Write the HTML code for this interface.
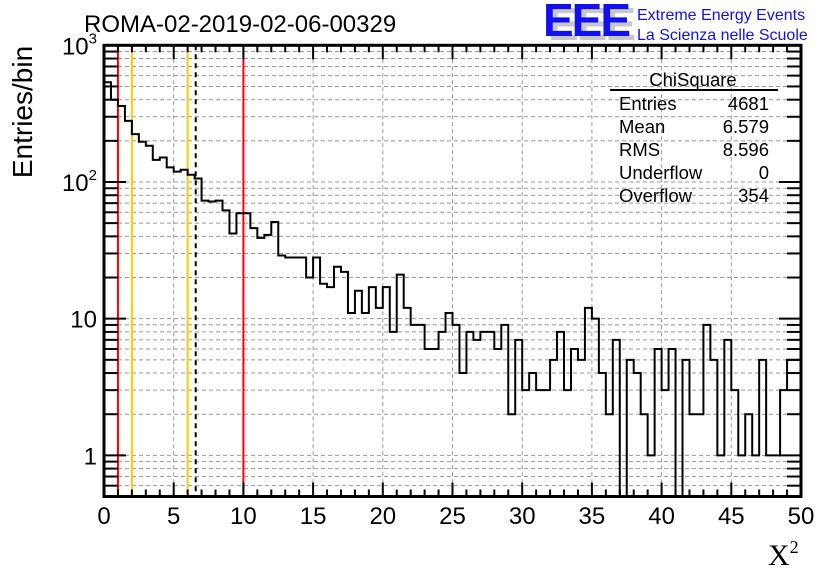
<!DOCTYPE html>
<html><head><meta charset="utf-8"><style>
html,body{margin:0;padding:0;background:#fff;}
svg{display:block;font-family:"Liberation Sans",sans-serif;}
</style></head><body>
<svg id="c" width="836" height="572" viewBox="0 0 836 572">
<rect width="836" height="572" fill="#fff"/>
<g id="grid"></g>
<g id="vlines"></g>
<path id="hist" fill="none" stroke="#000" stroke-width="2"/>
<g id="axes"></g>
<text x="84" y="32" font-size="24">ROMA-02-2019-02-06-00329</text>
<text transform="translate(32,112) rotate(-90)" text-anchor="middle" font-size="28">Entries/bin</text>
<text x="768" y="565" font-size="30" font-family="Liberation Serif,serif">X<tspan font-size="18" dy="-12">2</tspan></text>
<g>
<text x="548" y="40" font-size="46" font-weight="bold" fill="#c8c8c8" letter-spacing="-2">EEE</text>
<text x="543" y="36" font-size="46" font-weight="bold" fill="#1010f0" letter-spacing="-2">EEE</text>
<text x="637" y="20" font-size="16" fill="#1010f0">Extreme Energy Events</text>
<text x="637" y="40" font-size="16" fill="#1010f0">La Scienza nelle Scuole</text>
</g>
<g font-size="18.5">
<text x="693" y="86" text-anchor="middle">ChiSquare</text>
<line x1="610" y1="90" x2="778" y2="90" stroke="#000" stroke-width="2"/>
<text x="619" y="110">Entries</text><text x="769" y="110" text-anchor="end">4681</text>
<text x="619" y="133">Mean</text><text x="769" y="133" text-anchor="end">6.579</text>
<text x="619" y="156">RMS</text><text x="769" y="156" text-anchor="end">8.596</text>
<text x="619" y="179">Underflow</text><text x="769" y="179" text-anchor="end">0</text>
<text x="619" y="202">Overflow</text><text x="769" y="202" text-anchor="end">354</text>
</g>
</svg>
<script>
const binWidth = 0.5;
const counts = [537,400,360,280,224,197,184,145,151,128,119,123,113,106,73,72,73,62,42,59,
59,46,39,41,51,29,28,28,28,20,28,18,17,24,22,11,16,11,17,12,
17,8,21,12,9,9,6,6,8,11,9,4,8,7,8,8,6,9,2,7,
3,4,3,3,5,8,3,6,5,12,10,4,2,7,0,5,4,2,1,6,
3,6,0,5,2,2,9,5,1,7,3,1,2,1,5,1,1,3,5,5];
const xTicks = [0,5,10,15,20,25,30,35,40,45,50];
const yTicks = [1,10,100,1000];
const yTickLabels = ["1","10","10²","10³"];
const refLinesRed = [1,10];
const refLinesYellow = [2,6];
const meanValue = 6.579;

const X0=104,X1=801,Y0=496.5,Y1=45.3,XMIN=0,XMAX=50,YMIN=0.5,YMAX=1000;
const sx=v=>X0+(v-XMIN)/(XMAX-XMIN)*(X1-X0);
const sy=v=>{if(v<=0)return Y0+20;const y=Y0-(Math.log10(v)-Math.log10(YMIN))/(Math.log10(YMAX)-Math.log10(YMIN))*(Y0-Y1);return y;};
const NS="http://www.w3.org/2000/svg";
function mk(parent,tag,attrs){const e=document.createElementNS(NS,tag);for(const k in attrs)e.setAttribute(k,attrs[k]);parent.appendChild(e);return e;}
const grid=document.getElementById('grid'),axes=document.getElementById('axes'),vl=document.getElementById('vlines');
for(let d=-1;d<=2;d++){for(let m=1;m<=9;m++){const v=m*Math.pow(10,d);if(v<YMIN||v>YMAX)continue;const y=sy(v);
 const g=mk(grid,'line',{x1:X0,x2:X1,y1:y,y2:y,stroke:'#999','stroke-width':1,'stroke-dasharray':'4,3'});
 
 
 const big=(m===1);
 const t=mk(axes,'line',{x1:X0,x2:X0+(big?22:14),y1:y,y2:y,stroke:'#000','stroke-width':2});
 
 
 const t2=mk(axes,'line',{x1:X1,x2:X1-(big?22:14),y1:y,y2:y,stroke:'#000','stroke-width':2});
 
 
}}
xTicks.forEach(v=>{const x=sx(v);
 if(v>XMIN&&v<XMAX){const g=mk(grid,'line',{x1:x,x2:x,y1:Y1,y2:Y0,stroke:'#999','stroke-width':1,'stroke-dasharray':'4,3'});
 
 }
 const t=mk(axes,'text',{x:x,y:524,'text-anchor':'middle','font-size':24});t.textContent=v;
 
 
});
for(let v=XMIN;v<=XMAX;v++){const x=sx(v);const big=v%5===0;
 const t=mk(axes,'line',{x1:x,x2:x,y1:Y0,y2:Y0-(big?14:7),stroke:'#000','stroke-width':2});
 
 
 const t2=mk(axes,'line',{x1:x,x2:x,y1:Y1,y2:Y1+(big?14:7),stroke:'#000','stroke-width':2});
 
 }
yTicks.forEach((v,i)=>{const t=mk(axes,'text',{x:97,y:sy(v)+9,'text-anchor':'end','font-size':24});
 const lab=yTickLabels[i];
 if(lab.length>2&&/[²³]/.test(lab)){t.textContent='10';const ts=mk(t,'tspan',{'font-size':15,dy:-11});ts.textContent=lab.slice(-1)==='²'?'2':'3';}
 else t.textContent=lab;
 
 });
refLinesRed.forEach(v=>{const l=mk(vl,'line',{x1:sx(v),x2:sx(v),y1:Y1,y2:Y0,stroke:'#f00','stroke-width':2});
 
 });
refLinesYellow.forEach(v=>{const l=mk(vl,'line',{x1:sx(v),x2:sx(v),y1:Y1,y2:Y0,stroke:'#fc0','stroke-width':2});
 
 });
{const l=mk(vl,'line',{x1:sx(meanValue),x2:sx(meanValue),y1:Y1,y2:Y0,stroke:'#000','stroke-width':2,'stroke-dasharray':'5,4'});
 
 }
let d='';const clampY=v=>Math.min(Y0,Math.max(Y1,sy(v)));
counts.forEach((c,i)=>{const xa=sx(i*binWidth),xb=sx((i+1)*binWidth),y=clampY(c);
 d+=(i===0?'M'+xa+','+y:'L'+xa+','+y)+'L'+xb+','+y;});
document.getElementById('hist').setAttribute('d',d);
{const r=mk(axes,'rect',{x:X0,y:Y1,width:X1-X0,height:Y0-Y1,fill:'none',stroke:'#000','stroke-width':3});
 
 }
</script>
</body></html>
